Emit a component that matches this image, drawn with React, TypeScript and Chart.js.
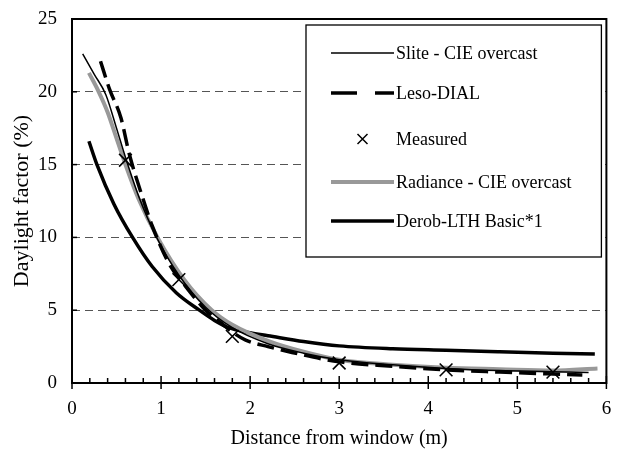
import React, { useEffect, useRef } from "react";
import { Chart, registerables } from "chart.js";

Chart.register(...registerables);

const FONT = "'Liberation Serif', 'Times New Roman', serif";

const seriesLabels = [
  "Slite - CIE overcast",
  "Leso-DIAL",
  "Measured",
  "Radiance - CIE overcast",
  "Derob-LTH Basic*1",
];

const sliteX = [0.12, 0.25, 0.38, 0.5, 0.6, 0.75, 0.95, 1.2, 1.5, 1.8, 2.2, 2.6, 3.0, 3.6, 4.2, 4.8, 5.4, 5.8];
const sliteY = [22.6, 21.2, 19.8, 17.5, 15.5, 12.8, 10.0, 7.4, 5.2, 3.8, 2.7, 2.05, 1.6, 1.25, 1.0, 0.85, 0.78, 0.72];

const lesoX = [0.32, 0.42, 0.55, 0.64, 0.8, 0.9, 1.09, 1.28, 1.5, 1.62, 1.8, 1.95, 2.2, 2.47, 3.0, 3.6, 4.2, 4.8, 5.4, 5.73];
const lesoY = [22.1, 20.2, 18.2, 15.8, 12.6, 10.8, 8.2, 6.6, 5.0, 4.4, 3.5, 2.95, 2.5, 2.1, 1.45, 1.15, 0.9, 0.75, 0.62, 0.55];

const measuredX = [0.6, 1.2, 1.8, 3.0, 4.2, 5.4];
const measuredY = [15.3, 7.1, 3.2, 1.37, 0.9, 0.75];

const radianceX = [0.19, 0.3, 0.4, 0.5, 0.6, 0.75, 0.96, 1.26, 1.57, 1.8, 2.2, 2.6, 3.0, 3.6, 4.2, 4.8, 5.4, 5.9];
const radianceY = [21.3, 20.0, 18.6, 16.8, 15.0, 12.6, 10.0, 7.1, 5.0, 4.0, 2.9, 2.15, 1.6, 1.25, 1.05, 0.95, 0.86, 1.0];

const derobX = [0.19, 0.28, 0.47, 0.68, 0.9, 1.17, 1.43, 1.6, 1.76, 2.0, 2.2, 2.6, 3.0, 3.6, 4.2, 4.8, 5.4, 5.87];
const derobY = [16.6, 15.0, 12.3, 10.0, 8.0, 6.2, 5.0, 4.3, 3.8, 3.45, 3.25, 2.85, 2.55, 2.35, 2.25, 2.15, 2.05, 2.0];

const xTitle = "Distance from window (m)";
const yTitle = "Daylight factor (%)";

const toPts = (xs: number[], ys: number[]) => xs.map((x, i) => ({ x, y: ys[i] }));

const decorPlugin = {
  id: "decor",
  afterDatasetsDraw(chart: any) {
    const { ctx, chartArea: a, scales } = chart;
    const xs = scales.x;
    const ys = scales.y;
    ctx.save();
    // frame
    ctx.strokeStyle = "#000";
    ctx.lineWidth = 2;
    ctx.setLineDash([]);
    ctx.strokeRect(a.left, a.top, a.right - a.left, a.bottom - a.top);
    // x ticks (major + minor)
    ctx.lineWidth = 1.5;
    const xt = xs.ticks.map((t: any) => t.value);
    for (let i = 0; i < xt.length; i++) {
      const px = xs.getPixelForValue(xt[i]);
      ctx.beginPath();
      ctx.moveTo(px, a.bottom - 7);
      ctx.lineTo(px, a.bottom + 6);
      ctx.stroke();
      if (i < xt.length - 1) {
        for (let k = 1; k < 5; k++) {
          const v = xt[i] + ((xt[i + 1] - xt[i]) * k) / 5;
          const mp = xs.getPixelForValue(v);
          ctx.beginPath();
          ctx.moveTo(mp, a.bottom - 5);
          ctx.lineTo(mp, a.bottom);
          ctx.stroke();
        }
      }
    }
    // y ticks
    ys.ticks.forEach((t: any) => {
      const py = ys.getPixelForValue(t.value);
      ctx.beginPath();
      ctx.moveTo(a.left, py);
      ctx.lineTo(a.left + 5, py);
      ctx.stroke();
    });
    // legend
    const bl = a.left + 234;
    const bt = a.top + 6;
    const br = a.right - 5;
    const bb = a.top + 238;
    ctx.fillStyle = "#fff";
    ctx.fillRect(bl, bt, br - bl, bb - bt);
    ctx.strokeStyle = "#000";
    ctx.lineWidth = 1.3;
    ctx.strokeRect(bl, bt, br - bl, bb - bt);
    const rows = [28, 68, 114, 157, 196];
    const sx1 = bl + 25;
    const sx2 = bl + 88;
    chart.data.datasets.forEach((ds: any, i: number) => {
      const y = bt + rows[i];
      ctx.save();
      if (ds.showLine === false) {
        const r = 5;
        ctx.strokeStyle = ds.borderColor;
        ctx.lineWidth = 1.5;
        const cx = (sx1 + sx2) / 2;
        ctx.beginPath();
        ctx.moveTo(cx - r, y - r);
        ctx.lineTo(cx + r, y + r);
        ctx.moveTo(cx + r, y - r);
        ctx.lineTo(cx - r, y + r);
        ctx.stroke();
      } else {
        ctx.strokeStyle = ds.borderColor;
        ctx.lineWidth = ds.borderWidth;
        ctx.setLineDash(ds.borderDash ? [26, 18] : []);
        ctx.beginPath();
        ctx.moveTo(sx1, y);
        ctx.lineTo(sx2, y);
        ctx.stroke();
      }
      ctx.restore();
      ctx.fillStyle = "#000";
      ctx.font = `18px ${FONT}`;
      ctx.textAlign = "left";
      ctx.textBaseline = "middle";
      ctx.fillText(ds.label, sx2 + 2, y + 1);
    });
    ctx.restore();
  },
};

export default function App() {
  const ref = useRef<HTMLCanvasElement>(null);
  useEffect(() => {
    if (!ref.current) return;
    const lineBase = {
      pointRadius: 0,
      fill: false,
      cubicInterpolationMode: "monotone" as const,
    };
    const chart = new Chart(ref.current, {
      type: "line",
      data: {
        datasets: [
          { ...lineBase, label: seriesLabels[0], data: toPts(sliteX, sliteY), borderColor: "#000", borderWidth: 1.5 },
          { ...lineBase, label: seriesLabels[1], data: toPts(lesoX, lesoY), borderColor: "#000", borderWidth: 3.5, borderDash: [17, 7] },
          {
            label: seriesLabels[2],
            data: toPts(measuredX, measuredY),
            showLine: false,
            pointStyle: "crossRot",
            pointRadius: 9,
            borderColor: "#000",
            backgroundColor: "#000",
            borderWidth: 1.6,
          },
          { ...lineBase, label: seriesLabels[3], data: toPts(radianceX, radianceY), borderColor: "#999", borderWidth: 4 },
          { ...lineBase, label: seriesLabels[4], data: toPts(derobX, derobY), borderColor: "#000", borderWidth: 3.5 },
        ],
      },
      options: {
        responsive: false,
        animation: false,
        devicePixelRatio: 1,
        events: [],
        layout: { padding: { top: 19, right: 10, left: 0, bottom: 0 } },
        plugins: { legend: { display: false }, tooltip: { enabled: false } },
        scales: {
          x: {
            type: "linear",
            min: 0,
            max: 6,
            afterFit: (s: any) => {
              s.height = 74;
              s.paddingLeft = 0;
              s.paddingRight = 0;
            },
            ticks: { stepSize: 1, color: "#000", font: { family: FONT, size: 19 }, padding: 15, maxRotation: 0 },
            grid: { display: false, drawTicks: false },
            border: { display: false },
            title: { display: true, text: xTitle, color: "#000", font: { family: FONT, size: 20 }, padding: { top: 0, bottom: 6 } },
          },
          y: {
            type: "linear",
            min: 0,
            max: 25,
            afterFit: (s: any) => {
              s.width = 72;
              s.paddingTop = 0;
              s.paddingBottom = 0;
            },
            ticks: { stepSize: 5, color: "#000", font: { family: FONT, size: 19 }, padding: 15 },
            grid: {
              drawTicks: false,
              lineWidth: 1,
              color: (c: any) => (c.tick && (c.tick.value === 0 || c.tick.value === 25) ? "rgba(0,0,0,0)" : "#555"),
            },
            border: { display: false, dash: [8, 5] },
            title: { display: true, text: yTitle, color: "#000", font: { family: FONT, size: 22 }, padding: { top: 9, bottom: 0 } },
          },
        },
      },
      plugins: [decorPlugin],
    } as any);
    return () => chart.destroy();
  }, []);
  return (
    <div style={{ position: "absolute", left: 0, top: 0, width: 617, height: 457 }}>
      <canvas ref={ref} width={617} height={457} style={{ display: "block" }} />
    </div>
  );
}
